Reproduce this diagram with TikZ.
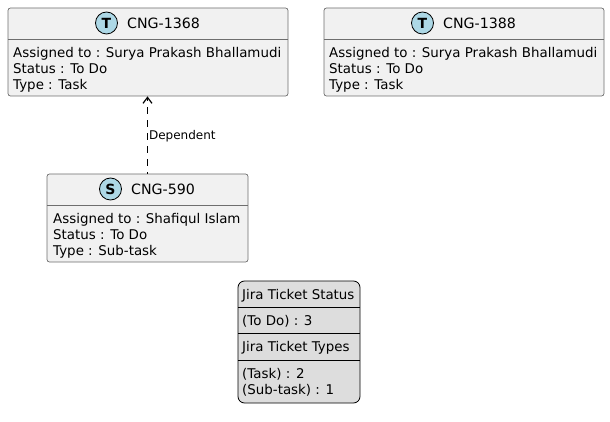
\documentclass[tikz,border=0pt]{standalone}
\usepackage{fontspec}
\setmainfont{DejaVu Sans}
\usepackage{tikz}
\usetikzlibrary{positioning,arrows.meta}
\definecolor{boxfill}{HTML}{F1F1F1}
\definecolor{boxline}{HTML}{6E6E6E}
\definecolor{spotfill}{HTML}{ADD8E6}
\definecolor{legendfill}{HTML}{DDDDDD}

\begin{document}
\begin{tikzpicture}[
  x=1pt, y=-1pt,
  font=\fontsize{13.4}{16.2}\selectfont,
  box/.style={draw=boxline, fill=boxfill, line width=0.7pt, rectangle, rounded corners=2.5pt, minimum height=88pt, inner sep=0pt},
  head/.style={inner sep=0pt, anchor=base west},
  title/.style={head, font=\fontsize{14.2}{16}\selectfont},
  body/.style={align=left, inner sep=0pt, anchor=north west},
  spot/.style={draw=black, fill=spotfill, line width=0.8pt, circle, minimum size=22pt, inner sep=0pt, font=\fontsize{14}{14}\selectfont\bfseries},
  sep/.style={draw=boxline, line width=0.7pt},
  legend/.style={draw=black, fill=legendfill, line width=0.8pt, rectangle, rounded corners=6.5pt, minimum width=122pt, minimum height=122pt, inner sep=0pt},
  legsep/.style={draw=black, line width=0.8pt},
  arr/.style={-{Straight Barb[length=6pt,width=9pt,line width=1.2pt]}, draw=black, line width=0.8pt, dash pattern=on 7pt off 6pt, dash phase=5pt}
]
\useasboundingbox (0,0) rectangle (610,422);

\node[box, minimum width=280pt] (t1) at (148,52) {};
\node[box, minimum width=280pt] (t2) at (464,52) {};
\node[box, minimum width=201pt] (s1) at (147.5,218) {};
\node[legend] (leg) at (299,342) {};

% ticket CNG-1368
\node[spot] (t1spot) at (106.5,23) {T};
\node[title] (t1head) at (127,28.3) {CNG-1368};
\draw[sep] (8,39) -- (288,39);
\node[body] (t1body) at (13,47) {Assigned to : Surya Prakash Bhallamudi\\Status : To Do\\Type : Task};

% ticket CNG-1388
\node[spot] (t2spot) at (422.5,23) {T};
\node[title] (t2head) at (443,28.3) {CNG-1388};
\draw[sep] (324,39) -- (604,39);
\node[body] (t2body) at (329,47) {Assigned to : Surya Prakash Bhallamudi\\Status : To Do\\Type : Task};

% ticket CNG-590
\node[spot] (s1spot) at (110.5,189) {S};
\node[title] (s1head) at (131,194.3) {CNG-590};
\draw[sep] (47,205) -- (248,205);
\node[body] (s1body) at (53,213) {Assigned to : Shafiqul Islam\\Status : To Do\\Type : Sub-task};

\draw[arr] (s1.north) -- (t1.south -| s1.north);
\node[right=1pt of s1.north, xshift=-3pt, yshift=37pt, font=\fontsize{12}{14}\selectfont] (dep) {Dependent};

% legend
\node[head] (leg1) at (242,299) {Jira Ticket Status};
\draw[legsep] (238,307.5) -- (360,307.5);
\node[head] (leg2) at (242,325.5) {(To Do) : 3};
\draw[legsep] (238,333.5) -- (360,333.5);
\node[head] (leg3) at (242,351.7) {Jira Ticket Types};
\draw[legsep] (238,360) -- (360,360);
\node[body] (leg4) at (242,368) {(Task) : 2\\(Sub-task) : 1};
\end{tikzpicture}
\end{document}
